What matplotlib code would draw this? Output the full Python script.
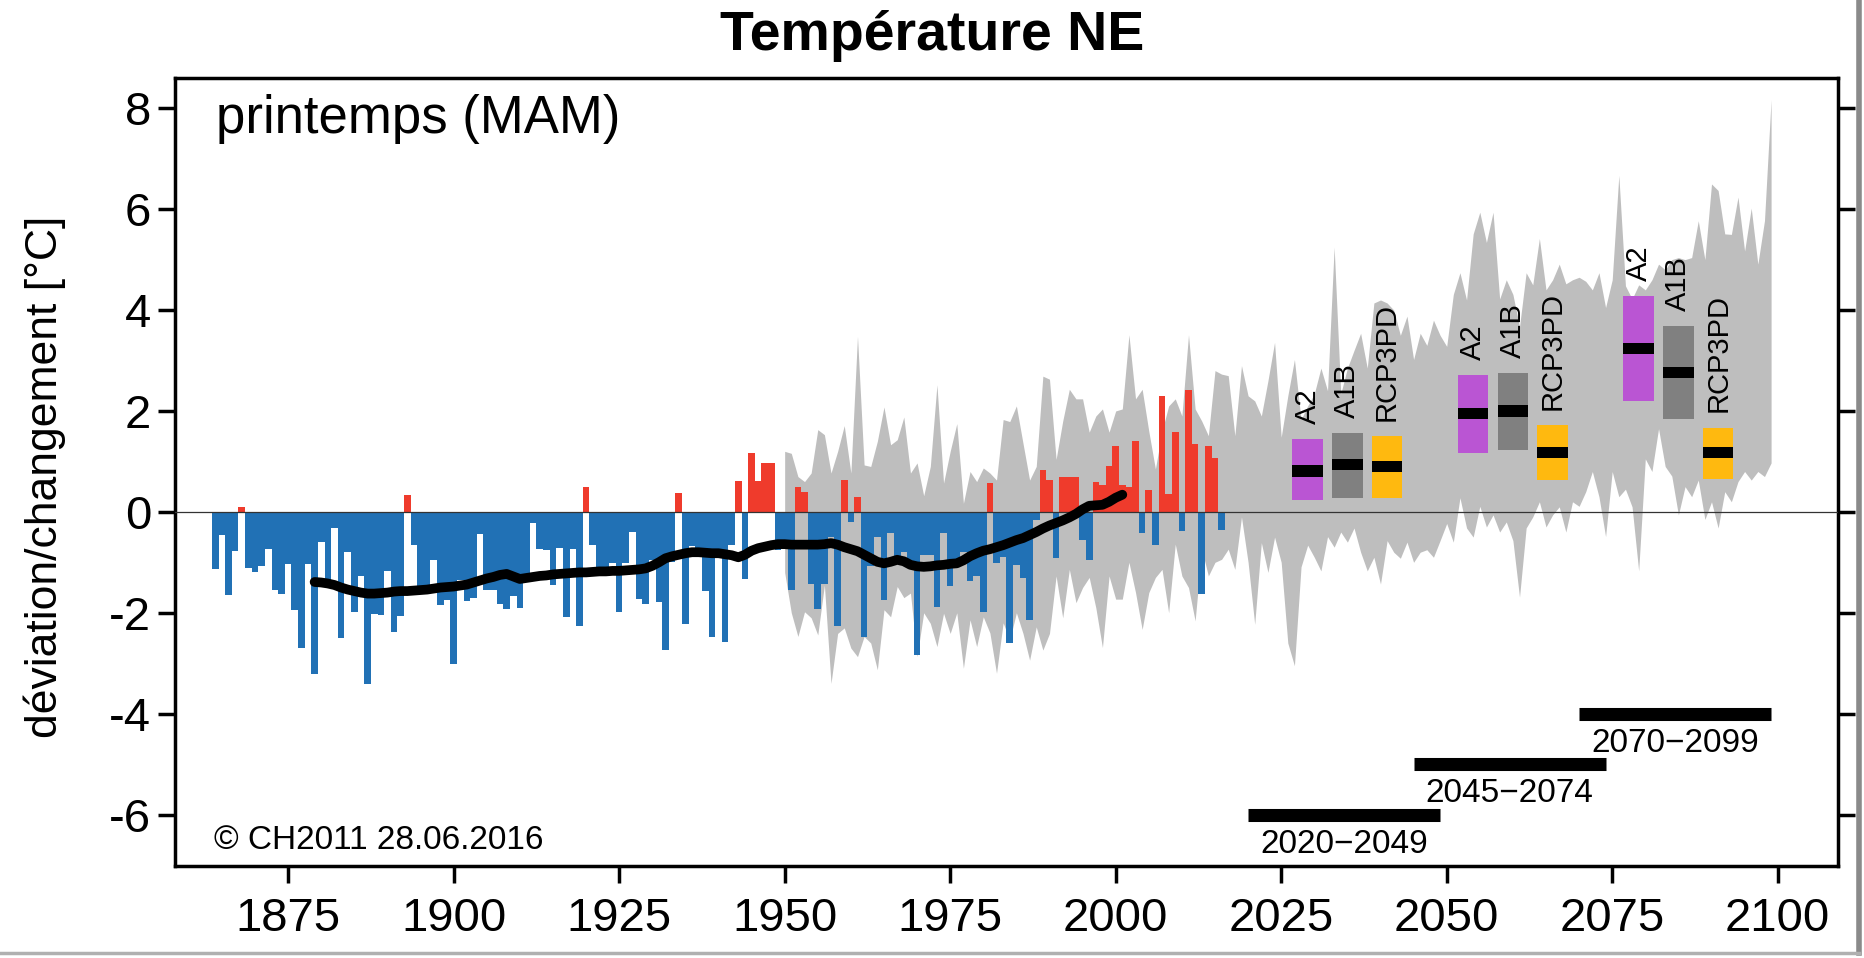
import numpy as np
import matplotlib
matplotlib.use('Agg')
import matplotlib.pyplot as plt
from matplotlib.lines import Line2D

plt.rcParams['font.family'] = ['Liberation Sans', 'DejaVu Sans']
plt.rcParams['axes.unicode_minus'] = False

# observed spring anomalies, one value per year from 1864
obs_start = 1864
obs_anom = [
    -1.14, -0.46, -1.64, -0.78, 0.10, -1.12, -1.20, -1.08, -0.73, -1.54,   # 1864-1873
    -1.62, -1.03, -1.94, -2.70, -1.03, -3.21, -0.60, -1.50, -0.32, -2.51,  # 1874-1883
    -0.79, -1.99, -1.28, -3.41, -2.02, -2.04, -1.18, -2.38, -2.06, 0.34,   # 1884-1893
    -0.66, -1.60, -1.50, -0.96, -1.85, -1.75, -3.01, -1.36, -1.77, -1.71,  # 1894-1903
    -0.44, -1.54, -1.54, -1.82, -1.92, -1.67, -1.90, -1.35, -0.22, -0.73,  # 1904-1913
    -0.75, -1.44, -0.72, -2.09, -0.73, -2.27, 0.50, -0.66, -1.09, -1.25,   # 1914-1923
    -1.01, -1.99, -1.01, -0.39, -1.72, -1.82, -0.95, -1.79, -2.73, -1.00,  # 1924-1933
    0.38, -2.22, -0.68, -0.79, -1.57, -2.49, -0.81, -2.57, -0.66, 0.62,    # 1934-1943
    -1.34, 1.16, 0.61, 0.96, 0.96, -0.75, -0.70, -1.55, 0.49, 0.39,        # 1944-1953
    -1.42, -1.92, -1.43, -0.50, -2.27, 0.63, -0.20, 0.29, -2.49, -1.08,    # 1954-1963
    -0.50, -1.75, -0.42, -1.00, -0.80, -1.05, -2.84, -0.85, -0.85, -1.89,  # 1964-1973
    -0.42, -1.47, -0.95, -0.80, -1.38, -1.28, -1.98, 0.57, -1.01, -0.90,   # 1974-1983
    -2.60, -1.05, -1.32, -2.14, -0.16, 0.83, 0.63, -0.91, 0.70, 0.70,      # 1984-1993
    0.70, -0.56, -0.95, 0.60, 0.53, 0.90, 1.30, 0.53, 0.50, 1.40,          # 1994-2003
    -0.41, 0.43, -0.65, 2.29, 0.35, 1.59, -0.38, 2.41, 1.34, -1.63,        # 2004-2013
    1.30, 1.06, -0.36,                                                     # 2014-2016
]

# smoothed curve (30-yr filter), from 1879
smooth_start = 1879
smooth_vals = [
    -1.39, -1.40, -1.42, -1.45, -1.50, -1.54, -1.57, -1.60, -1.62, -1.62,
    -1.61, -1.60, -1.58, -1.57, -1.57, -1.56, -1.55, -1.54, -1.52, -1.50,
    -1.49, -1.48, -1.46, -1.44, -1.40, -1.36, -1.32, -1.29, -1.25, -1.23,
    -1.28, -1.33, -1.31, -1.29, -1.27, -1.26, -1.24, -1.23, -1.22, -1.21,
    -1.20, -1.20, -1.19, -1.18, -1.18, -1.17, -1.17, -1.16, -1.15, -1.14,
    -1.12, -1.07, -1.00, -0.92, -0.88, -0.85, -0.82, -0.80, -0.80, -0.81,
    -0.82, -0.82, -0.84, -0.86, -0.90, -0.85, -0.77, -0.72, -0.69, -0.66,
    -0.64, -0.64, -0.65, -0.65, -0.65, -0.65, -0.65, -0.64, -0.62, -0.65,
    -0.70, -0.74, -0.78, -0.85, -0.92, -0.99, -1.02, -0.99, -0.95, -0.98,
    -1.05, -1.08, -1.09, -1.08, -1.06, -1.05, -1.03, -1.02, -0.96, -0.88,
    -0.82, -0.77, -0.74, -0.70, -0.66, -0.61, -0.56, -0.52, -0.46, -0.40,
    -0.33, -0.27, -0.22, -0.17, -0.11, -0.04, 0.05, 0.12, 0.13, 0.14,
    0.20, 0.28, 0.34,
]

# model spread (grey band), from 1950
env_start = 1950
env_upper = [
    1.20, 1.16, 0.70, 0.60, 0.77, 1.63, 1.53, 0.77, 1.20, 1.71,
    0.77, 3.48, 0.93, 0.90, 1.40, 2.08, 1.33, 1.43, 1.88, 0.77,
    0.97, 0.32, 0.90, 2.52, 0.57, 1.20, 1.75, 0.17, 0.80, 0.60,
    0.87, 0.77, 0.63, 1.83, 1.79, 2.10, 1.36, 0.63, 0.90, 2.69,
    2.63, 1.04, 1.80, 2.43, 2.24, 2.24, 1.58, 1.90, 2.04, 1.58,
    2.00, 2.04, 3.51, 2.24, 2.43, 1.60, 0.85, 1.60, 2.10, 2.24,
    1.90, 3.51, 2.04, 1.80, 1.51, 2.80, 2.73, 2.70, 1.51, 2.90,
    2.30, 2.20, 1.90, 2.60, 3.36, 1.48, 2.30, 3.02, 1.83, 2.10,
    2.34, 2.85, 2.40, 5.25, 2.34, 2.85, 3.20, 3.54, 2.85, 4.14,
    4.20, 4.14, 4.00, 3.50, 3.88, 3.02, 3.54, 3.30, 3.80, 3.50,
    3.28, 4.31, 4.74, 4.20, 5.51, 5.94, 5.34, 5.94, 4.22, 4.60,
    4.31, 3.67, 4.74, 4.50, 5.42, 4.40, 4.60, 4.91, 4.52, 4.60,
    4.65, 4.57, 4.40, 4.74, 4.05, 4.60, 6.67, 4.48, 4.22, 4.50,
    4.40, 4.60, 4.91, 4.80, 5.00, 5.04, 5.00, 5.04, 5.77, 5.00,
    6.50, 6.37, 5.51, 5.50, 6.24, 5.17, 6.02, 4.91, 5.77, 8.17,
]
env_lower = [
    -1.20, -2.00, -2.47, -1.98, -2.10, -2.44, -1.45, -3.40, -2.41, -2.30,
    -2.70, -2.87, -2.47, -2.60, -3.13, -1.94, -2.08, -1.48, -1.70, -1.61,
    -2.87, -2.00, -2.21, -2.67, -2.01, -2.41, -2.00, -3.10, -2.14, -2.67,
    -2.08, -2.40, -3.20, -2.20, -2.54, -2.00, -2.41, -2.94, -2.28, -2.74,
    -2.41, -1.27, -2.10, -1.14, -1.80, -1.50, -1.30, -1.90, -2.69, -1.27,
    -1.73, -1.73, -1.00, -1.60, -2.33, -1.60, -1.30, -1.14, -2.00, -0.64,
    -1.27, -1.50, -2.16, -0.74, -1.27, -1.00, -0.94, -0.74, -1.14, -0.10,
    -1.00, -2.23, -0.61, -1.20, -0.50, -1.00, -2.60, -3.05, -1.09, -0.66,
    -0.90, -1.17, -0.49, -0.70, -0.40, -0.60, -0.32, -0.80, -1.17, -0.90,
    -1.43, -0.57, -0.80, -0.92, -0.60, -1.00, -0.80, -0.75, -0.90, -0.57,
    -0.23, -0.60, 0.28, -0.32, -0.50, 0.11, -0.30, -0.06, -0.40, -0.20,
    -0.57, -1.69, -0.32, -0.10, 0.20, -0.30, -0.06, 0.10, -0.40, 0.20,
    0.11, 0.40, 0.80, 0.30, -0.49, 0.80, 0.30, 0.45, 0.10, -1.17,
    1.05, 0.80, 1.65, 0.90, 0.71, -0.06, 0.50, 0.30, 0.63, -0.15,
    0.20, -0.32, 0.40, 0.20, 0.60, 0.80, 0.63, 0.80, 0.70, 0.97,
]

# scenario ranges per 30-yr period
scenarios = ['A2', 'A1B', 'RCP3PD']
scen_colors = ['#BA55D3', '#808080', '#FFB90F']
scen_x = [[2029, 2035, 2041], [2054, 2060, 2066], [2079, 2085, 2091]]
scen_low = [[0.24, 0.28, 0.27], [1.17, 1.23, 0.64], [2.19, 1.85, 0.66]]
scen_mid = [[0.81, 0.94, 0.90], [1.95, 2.00, 1.18], [3.24, 2.77, 1.17]]
scen_high = [[1.44, 1.57, 1.51], [2.71, 2.75, 1.72], [4.27, 3.68, 1.67]]

periods = ['2020\u22122049', '2045\u22122074', '2070\u22122099']
period_start = [2020, 2045, 2070]
period_end = [2049, 2074, 2099]
period_level = [-6, -5, -4]

fig = plt.figure(figsize=(18.65, 9.58), dpi=100)
ax = fig.add_axes([0.0938, 0.0960, 0.8917, 0.8226])

env_years = np.arange(env_start, env_start + len(env_upper))
ax.fill_between(env_years, env_lower, env_upper, color='#BEBEBE', lw=0, zorder=1)

obs_years = np.arange(obs_start, obs_start + len(obs_anom))
obs = np.array(obs_anom)
bar_cols = np.where(obs >= 0, '#EF3B2C', '#2171B5')
ax.bar(obs_years, obs, width=1.0, color=bar_cols, lw=0, zorder=2)

ax.axhline(0, color='#333333', lw=0.9, zorder=3)

smooth_years = np.arange(smooth_start, smooth_start + len(smooth_vals))
ax.plot(smooth_years, smooth_vals, color='black', lw=7, zorder=4, solid_capstyle='round')

# scenario boxes with median bar and rotated labels
for g in range(len(scen_x)):
    for i, name in enumerate(scenarios):
        x = scen_x[g][i]
        lo, mid, hi = scen_low[g][i], scen_mid[g][i], scen_high[g][i]
        ax.bar(x, hi - lo, bottom=lo, width=4.6, color=scen_colors[i], lw=0, zorder=5)
        ax.bar(x, 0.22, bottom=mid - 0.11, width=4.6, color='black', lw=0, zorder=6)
        ax.text(x, hi + 0.3, name, rotation=90, ha='center', va='bottom',
                fontsize=21, zorder=7)

# period bars
for lab, s, e, lev in zip(periods, period_start, period_end, period_level):
    ax.hlines(lev, s, e, color='black', lw=9.4, zorder=5)
    ax.text((s + e) / 2, lev - 0.76, lab, ha='center', va='baseline', fontsize=24)

ax.set_xlim(1857.9, 2109.1)
ax.set_ylim(-7.02, 8.6)
ax.set_xticks(range(1875, 2101, 25))
ax.set_yticks(range(-6, 9, 2))
ax.tick_params(axis='both', direction='out', length=12, width=2.5, labelsize=34)
ax.tick_params(axis='y', right=True, labelright=False, pad=5)
ax.tick_params(axis='x', pad=10)
for sp in ax.spines.values():
    sp.set_linewidth(2.5)

ax.text(0.0247, 0.948, 'printemps (MAM)', transform=ax.transAxes,
        ha='left', va='center', fontsize=38)
ax.text(0.0235, 0.032, '\u00a9 CH2011 28.06.2016', transform=ax.transAxes,
        ha='left', va='center', fontsize=24)

fig.text(0.5, 0.962, 'Température NE', ha='center', va='center',
         fontsize=40, fontweight='bold')
fig.text(0.024, 0.502, 'déviation/changement [°C]', rotation=90,
         ha='center', va='center', fontsize=32)

# grey outer frame on right and bottom
fig.add_artist(Line2D([1859 / 1865] * 2, [5 / 958, 1.0], transform=fig.transFigure,
                      color='#8a8a8a', lw=4))
fig.add_artist(Line2D([0.0, 1859 / 1865], [5 / 958] * 2, transform=fig.transFigure,
                      color='#b0b0b0', lw=2.5))

fig.savefig('out.png', dpi=100)
